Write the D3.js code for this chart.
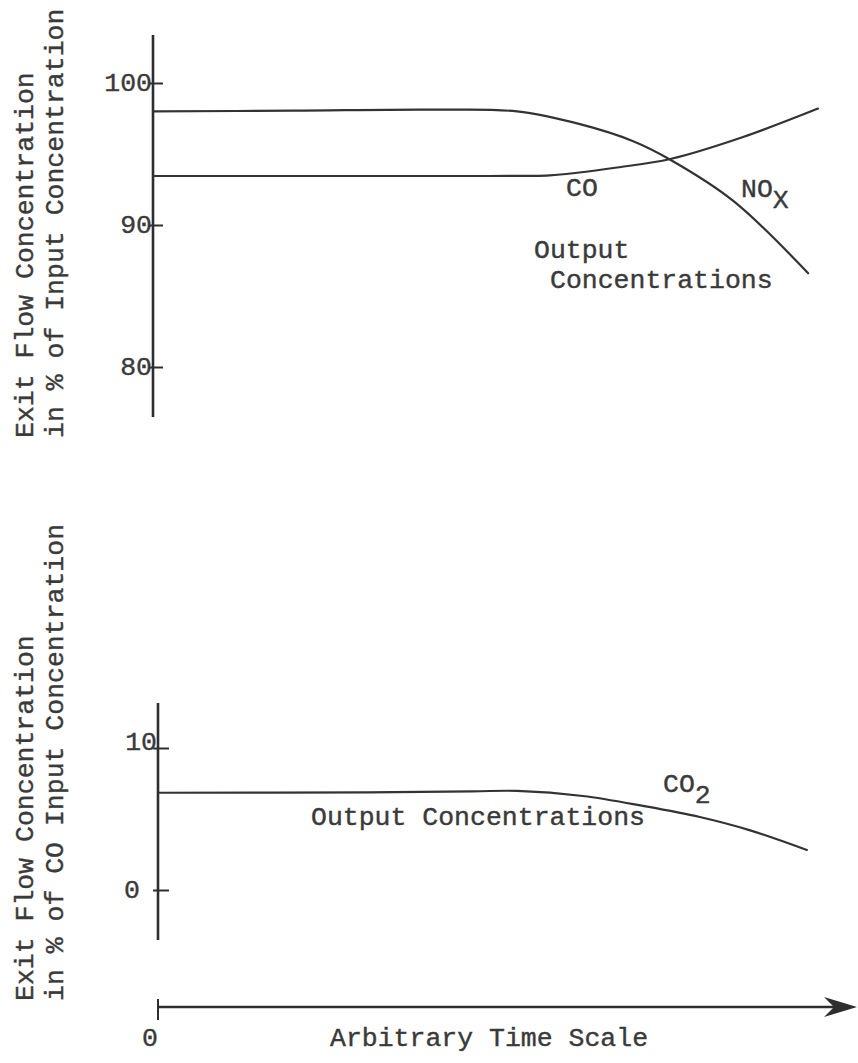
<!DOCTYPE html>
<html>
<head>
<meta charset="utf-8">
<script src="https://cdn.jsdelivr.net/npm/d3@7/dist/d3.min.js"></script>
<style>
  html, body { margin: 0; padding: 0; background: #ffffff; }
  svg { display: block; }
  text { font-family: "Liberation Mono", "Courier New", monospace; font-size: 26.5px; fill: #3a3a3a; stroke: #3a3a3a; stroke-width: 0.4px; }
</style>
</head>
<body>
<svg id="chart" width="858" height="1063"></svg>
<script>
// ---------- data ----------
// Upper panel: exit flow concentration in % of input concentration
const timeNOx = [0, 20, 40, 52, 61, 68.6, 73.9, 82.9, 93.6];
const valNOx  = [98.0, 98.05, 98.12, 98.0, 97.1, 95.9, 94.6, 91.7, 86.6];
const timeCO  = [0, 30, 48, 56.7, 60.6, 66.3, 73.9, 84.3, 95];
const valCO   = [93.45, 93.45, 93.45, 93.5, 93.68, 94.05, 94.65, 96.2, 98.2];
// Lower panel: exit flow concentration in % of CO input concentration
const timeCO2 = [0, 30, 45, 51.3, 60.7, 69.3, 77.4, 84.6, 92.7];
const valCO2  = [6.85, 6.88, 6.95, 6.98, 6.62, 5.92, 5.14, 4.2, 2.82];
// tick labels
const topTicks = [80, 90, 100];
const bottomTicks = [0, 10];
const timeTicks = [0];
const topYLabel = ["Exit Flow Concentration", "in % of Input Concentration"];
const bottomYLabel = ["Exit Flow Concentration", "in % of CO Input Concentration"];
const xLabel = "Arbitrary Time Scale";

// ---------- drawing ----------
const svg = d3.select("#chart");
const ink = "#2e2e2e";

// scales
const xTop = d3.scaleLinear().domain([0, 100]).range([153, 853]);
const xBot = d3.scaleLinear().domain([0, 100]).range([158, 858]);
const yTop = d3.scaleLinear().domain([80, 100]).range([367, 83]);
const yBot = d3.scaleLinear().domain([0, 10]).range([890, 748]);

const curve = d3.curveCatmullRom.alpha(0.5);

function drawLine(xs, ys, xScale, yScale) {
  const pts = xs.map((t, i) => [t, ys[i]]);
  svg.append("path")
    .datum(pts)
    .attr("fill", "none")
    .attr("stroke", "#333")
    .attr("stroke-width", 2.2)
    .attr("stroke-linecap", "round")
    .attr("d", d3.line().x(d => xScale(d[0])).y(d => yScale(d[1])).curve(curve));
}

// ----- upper panel axis -----
svg.append("line").attr("x1", 153).attr("x2", 153).attr("y1", 35).attr("y2", 417)
  .attr("stroke", ink).attr("stroke-width", 2.6);
const gTop = svg.append("g").attr("transform", "translate(149,0)")
  .call(d3.axisRight(yTop).tickValues(topTicks).tickSize(14).tickFormat(d3.format("d")));
gTop.select(".domain").remove();
gTop.selectAll(".tick line").attr("stroke", ink).attr("stroke-width", 2);
gTop.selectAll(".tick text").attr("x", 3).attr("dy", "0.3em")
  .attr("text-anchor", "end").attr("font-family", null).attr("font-size", null).attr("fill", null);

// ----- lower panel axis -----
svg.append("line").attr("x1", 158).attr("x2", 158).attr("y1", 703).attr("y2", 940)
  .attr("stroke", ink).attr("stroke-width", 2.6);
const gBot = svg.append("g").attr("transform", "translate(153,0)")
  .call(d3.axisRight(yBot).tickValues(bottomTicks).tickSize(16).tickFormat(d3.format("d")));
gBot.select(".domain").remove();
gBot.selectAll(".tick line").attr("stroke", ink).attr("stroke-width", 2);
gBot.selectAll(".tick text").attr("x", d => d === 0 ? -13 : 4).attr("dy", d => d === 0 ? "0.3em" : "0.05em")
  .attr("text-anchor", "end").attr("font-family", null).attr("font-size", null).attr("fill", null);

// ----- curves -----
drawLine(timeNOx, valNOx, xTop, yTop);
drawLine(timeCO, valCO, xTop, yTop);
drawLine(timeCO2, valCO2, xBot, yBot);

// ----- upper labels -----
svg.append("text").attr("x", 566).attr("y", 196).text("CO");
const nox = svg.append("text").attr("x", 741).attr("y", 197);
nox.append("tspan").text("NO");
nox.append("tspan").attr("dy", 11).text("X");
svg.append("text").attr("x", 534).attr("y", 258).text("Output");
svg.append("text").attr("x", 550).attr("y", 288).text("Concentrations");

// ----- lower labels -----
svg.append("text").attr("x", 311).attr("y", 825).text("Output Concentrations");
const co2 = svg.append("text").attr("x", 663).attr("y", 792);
co2.append("tspan").text("CO");
co2.append("tspan").attr("dy", 11).text("2");

// ----- y axis titles (rotated) -----
function yTitle(lines, yStart) {
  const xs = [33, 63];
  lines.forEach((s, i) => {
    svg.append("text")
      .attr("transform", `translate(${xs[i]},${yStart}) rotate(-90)`)
      .attr("text-anchor", "start")
      .text(s);
  });
}
yTitle(topYLabel, 438);
yTitle(bottomYLabel, 1001);

// ----- time axis -----
const xAxisY = 1007;
svg.append("line").attr("x1", xBot(0)).attr("x2", 840).attr("y1", xAxisY).attr("y2", xAxisY)
  .attr("stroke", ink).attr("stroke-width", 2.6);
svg.append("path")
  .attr("d", `M857,${xAxisY} L824,${xAxisY - 10} L834,${xAxisY} L824,${xAxisY + 10} Z`)
  .attr("fill", ink);
timeTicks.forEach(t => {
  svg.append("line").attr("x1", xBot(t)).attr("x2", xBot(t)).attr("y1", xAxisY - 8).attr("y2", xAxisY + 13)
    .attr("stroke", ink).attr("stroke-width", 2);
  svg.append("text").attr("x", xBot(t) - 8).attr("y", 1046).attr("text-anchor", "middle").text(String(t));
});
svg.append("text").attr("x", 330).attr("y", 1046).text(xLabel);
</script>
</body>
</html>
